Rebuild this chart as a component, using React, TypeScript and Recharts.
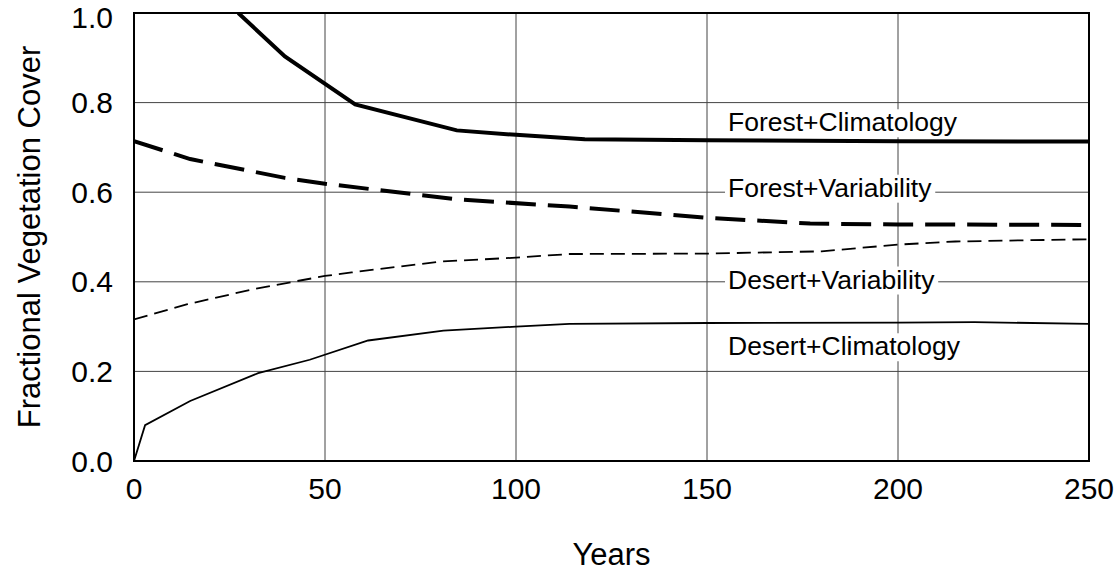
import React, { useLayoutEffect, useRef, useState } from "react";
import {
  LineChart,
  Line,
  XAxis,
  YAxis,
  CartesianGrid,
  ReferenceArea,
  ReferenceDot,
  Label,
} from "recharts";

const FONT = "'Liberation Sans', Arial, sans-serif";

// years and cover values
const forestClimYears = [27.3, 39.5, 57.9, 84.5, 100, 118, 150, 200, 250];
const forestClimValues = [1.0, 0.903, 0.796, 0.738, 0.728, 0.718, 0.716, 0.714, 0.713];

const forestVarYears = [0, 14.7, 39.5, 50, 84.5, 114, 150, 177, 200, 250];
const forestVarValues = [0.714, 0.674, 0.632, 0.619, 0.584, 0.568, 0.543, 0.53, 0.528, 0.527];

const desertVarYears = [0, 14, 32, 50, 57, 80, 100, 114, 150, 180, 200, 215, 250];
const desertVarValues = [0.316, 0.35, 0.385, 0.413, 0.421, 0.445, 0.454, 0.462, 0.463, 0.468, 0.483, 0.49, 0.495];

const desertClimYears = [0, 2.9, 14.7, 32.5, 46, 61.3, 81, 100, 114, 150, 200, 220, 250];
const desertClimValues = [0, 0.08, 0.134, 0.196, 0.226, 0.269, 0.291, 0.3, 0.306, 0.308, 0.309, 0.31, 0.306];

const xTicks = [0, 50, 100, 150, 200, 250];
const yTicks = [0, 0.2, 0.4, 0.6, 0.8, 1.0];

// series labels, anchored in data units (year, cover) at the text baseline start
const seriesNames = [
  "Forest+Climatology",
  "Forest+Variability",
  "Desert+Variability",
  "Desert+Climatology",
];
const labelYear = 155.5;
const labelCover = [0.736, 0.59, 0.385, 0.236];

const toRows = (xs: number[], ys: number[]) => xs.map((x, i) => ({ x, y: ys[i] }));

const series = [
  { name: seriesNames[0], data: toRows(forestClimYears, forestClimValues), width: 4, dash: undefined },
  { name: seriesNames[1], data: toRows(forestVarYears, forestVarValues), width: 4, dash: "30 12" },
  { name: seriesNames[2], data: toRows(desertVarYears, desertVarValues), width: 1.8, dash: "14 7" },
  { name: seriesNames[3], data: toRows(desertClimYears, desertClimValues), width: 1.8, dash: undefined },
];

function BoxedText({ cx, cy, text }: { cx?: number; cy?: number; text: string }) {
  const ref = useRef<SVGTextElement>(null);
  const [w, setW] = useState(text.length * 12);
  useLayoutEffect(() => {
    if (ref.current) setW(ref.current.getBBox().width);
  }, [text]);
  if (cx == null || cy == null) return null;
  return (
    <g>
      <rect x={cx - 3} y={cy - 22} width={w + 6} height={28} fill="#fff" />
      <text ref={ref} x={cx} y={cy} fontSize={26.5} fontFamily={FONT} fill="#000">
        {text}
      </text>
    </g>
  );
}

export default function App() {
  return (
    <div style={{ position: "absolute", left: 0, top: 0, background: "#fff" }}>
      <LineChart
        width={1119}
        height={573}
        margin={{ top: 13, right: 30, bottom: 0, left: 0 }}
      >
        <CartesianGrid stroke="#444" strokeWidth={1} />
        <XAxis
          dataKey="x"
          type="number"
          domain={[0, 250]}
          ticks={xTicks}
          allowDataOverflow
          axisLine={false}
          tickLine={false}
          tickSize={0}
          tickMargin={17}
          height={112}
          tick={{ fill: "#000", fontSize: 30, fontFamily: FONT }}
        >
          <Label
            value="Years"
            position="insideBottom"
            offset={8}
            style={{ fill: "#000", fontSize: 31, fontFamily: FONT }}
          />
        </XAxis>
        <YAxis
          dataKey="y"
          type="number"
          domain={[0, 1]}
          ticks={yTicks}
          allowDataOverflow
          axisLine={false}
          tickLine={false}
          tickSize={0}
          tickMargin={21}
          width={134}
          tickFormatter={(v: number) => v.toFixed(1)}
          tick={{ fill: "#000", fontSize: 30, fontFamily: FONT }}
        >
          <Label
            content={(props: any) => {
              const vb = props.viewBox || { x: 0, y: 13, height: 448 };
              const tx = vb.x + 40;
              const ty = vb.y + vb.height / 2;
              return (
                <text
                  x={tx}
                  y={ty}
                  transform={`rotate(-90 ${tx} ${ty})`}
                  textAnchor="middle"
                  fontSize={31}
                  fontFamily={FONT}
                  fill="#000"
                >
                  Fractional Vegetation Cover
                </text>
              );
            }}
          />
        </YAxis>
        {series.map((s) => (
          <Line
            key={s.name}
            data={s.data}
            dataKey="y"
            name={s.name}
            type="linear"
            stroke="#000"
            strokeWidth={s.width}
            strokeDasharray={s.dash}
            dot={false}
            activeDot={false}
            isAnimationActive={false}
          />
        ))}
        {seriesNames.map((name, i) => (
          <ReferenceDot
            key={name}
            x={labelYear}
            y={labelCover[i]}
            r={0}
            shape={(p: any) => <BoxedText cx={p.cx} cy={p.cy} text={name} />}
          />
        ))}
        <ReferenceArea
          x1={0}
          x2={250}
          y1={0}
          y2={1}
          fill="none"
          fillOpacity={0}
          stroke="#000"
          strokeWidth={2}
        />
      </LineChart>
    </div>
  );
}
